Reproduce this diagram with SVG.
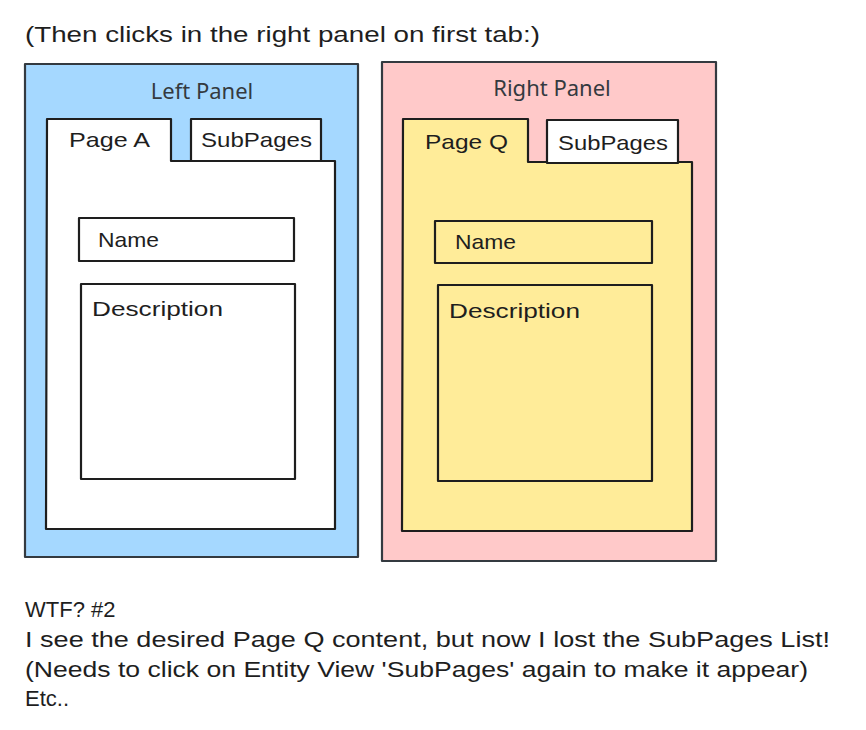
<svg xmlns="http://www.w3.org/2000/svg" width="866" height="730" viewBox="0 0 866 730">
<style>
.panel{stroke:#343a40;stroke-width:2.2;stroke-linejoin:round}
.box{stroke:#1e1e1e;stroke-width:2.2;stroke-linejoin:round}
.title{font-family:"Noto Sans","Open Sans",sans-serif;font-size:22px;fill:#343a40;text-anchor:middle}
.hand{font-family:"Liberation Sans",Arial,sans-serif;font-size:21px;fill:#1e1e1e}
.note{font-family:"Liberation Sans",Arial,sans-serif;font-size:22px;fill:#1e1e1e}
</style>
<rect width="866" height="730" fill="#ffffff"/>
<text class="note" x="25" y="42" textLength="515" lengthAdjust="spacingAndGlyphs">(Then clicks in the right panel on first tab:)</text>

<g id="left-panel">
<rect class="panel" x="25" y="64" width="333" height="493" fill="#a5d8ff"/>
<text class="title" x="202" y="99">Left Panel</text>
</g>
<g id="left-page-a">
<path class="box" d="M47 119 L171 119 L171 161 L335 161 L335 529 L46 529 Z" fill="#ffffff"/>
<text class="hand" x="69" y="147" textLength="81" lengthAdjust="spacingAndGlyphs">Page A</text>
</g>
<g id="left-subpages-tab">
<rect class="box" x="191" y="119" width="130" height="42" fill="#ffffff"/>
<text class="hand" x="201" y="147" textLength="111" lengthAdjust="spacingAndGlyphs">SubPages</text>
</g>
<g id="left-name">
<rect class="box" x="79" y="218" width="215" height="43" fill="#ffffff"/>
<text class="hand" x="98" y="247" textLength="61" lengthAdjust="spacingAndGlyphs">Name</text>
</g>
<g id="left-description">
<rect class="box" x="81" y="284" width="214" height="195" fill="#ffffff"/>
<text class="hand" x="92" y="316" textLength="131" lengthAdjust="spacingAndGlyphs">Description</text>
</g>

<g id="right-panel">
<rect class="panel" x="382" y="62" width="334" height="499" fill="#ffc9c9"/>
<text class="title" x="552" y="96">Right Panel</text>
</g>
<g id="right-page-q">
<path class="box" d="M403 119 L528 119 L528 162 L692 162 L692 531 L402 531 Z" fill="#ffec99"/>
<text class="hand" x="425" y="149" textLength="83" lengthAdjust="spacingAndGlyphs">Page Q</text>
</g>
<g id="right-subpages-tab">
<rect class="box" x="547" y="120" width="131" height="43" fill="#ffffff"/>
<text class="hand" x="558" y="150" textLength="110" lengthAdjust="spacingAndGlyphs">SubPages</text>
</g>
<g id="right-name">
<rect class="box" x="435" y="221" width="217" height="42" fill="#ffec99"/>
<text class="hand" x="455" y="249" textLength="61" lengthAdjust="spacingAndGlyphs">Name</text>
</g>
<g id="right-description">
<rect class="box" x="438" y="285" width="214" height="196" fill="#ffec99"/>
<text class="hand" x="449" y="318" textLength="131" lengthAdjust="spacingAndGlyphs">Description</text>
</g>

<g id="connectors"></g>

<g id="notes">
<text class="note" x="25" y="617">WTF? #2</text>
<text class="note" x="25" y="647" textLength="805" lengthAdjust="spacingAndGlyphs">I see the desired Page Q content, but now I lost the SubPages List!</text>
<text class="note" x="25" y="677" textLength="783" lengthAdjust="spacingAndGlyphs">(Needs to click on Entity View 'SubPages' again to make it appear)</text>
<text class="note" x="25" y="706">Etc..</text>
</g>
</svg>
